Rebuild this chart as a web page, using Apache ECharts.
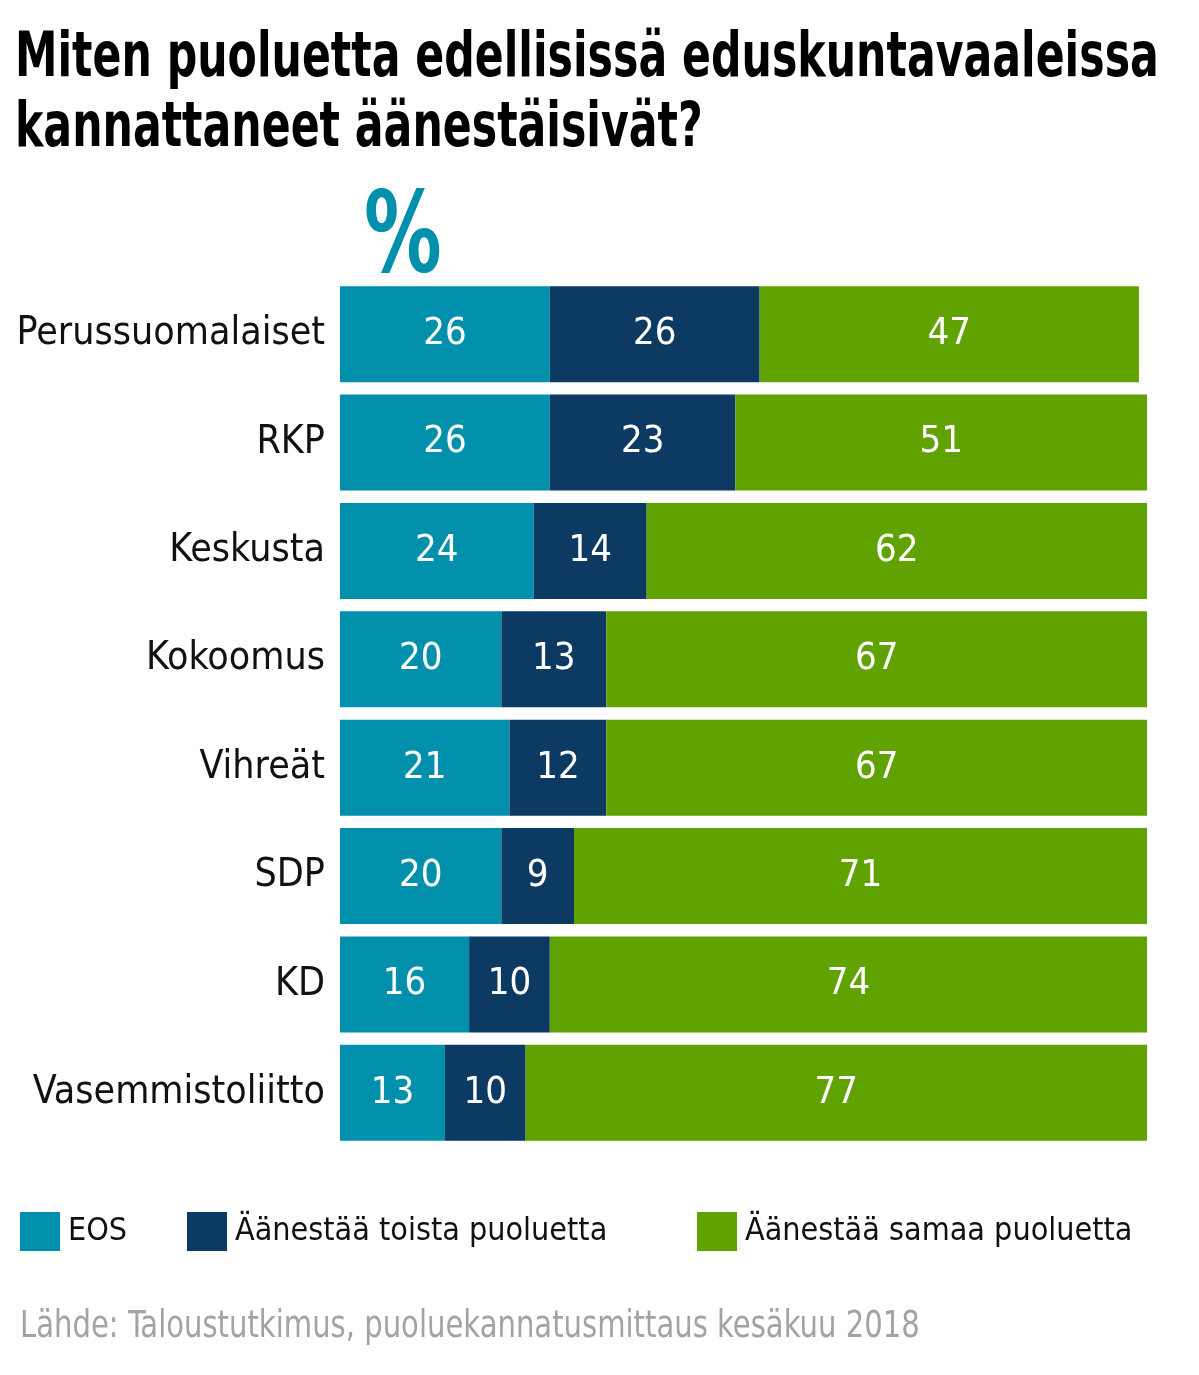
<!DOCTYPE html>
<html>
<head>
<meta charset="utf-8">
<script src="https://cdn.jsdelivr.net/npm/echarts@6/dist/echarts.min.js"></script>
<style>
  html, body { margin: 0; padding: 0; background: #fff; }
  #chart { width: 1199px; height: 1375px; }
</style>
</head>
<body>
<div id="chart"></div>
<script>
// puolueet ylhäältä alas
var parties = ['Perussuomalaiset', 'RKP', 'Keskusta', 'Kokoomus', 'Vihreät', 'SDP', 'KD', 'Vasemmistoliitto'];
var seriesNames = ['EOS', 'Äänestää toista puoluetta', 'Äänestää samaa puoluetta'];
var eos = [26, 26, 24, 20, 21, 20, 16, 13];
var toista = [26, 23, 14, 13, 12, 9, 10, 10];
var samaa = [47, 51, 62, 67, 67, 71, 74, 77];

var colors = ['#0090ab', '#0d3a63', '#60a300'];
var font = '"DejaVu Sans Condensed", "Liberation Sans Narrow", sans-serif';

var chart = echarts.init(document.getElementById('chart'));

function barSeries(name, data, color) {
    return {
        name: name,
        type: 'bar',
        stack: 'total',
        data: data,
        barWidth: 96,
        itemStyle: {color: color},
        label: {
            show: true,
            position: 'inside',
            color: '#fff',
            fontFamily: font,
            fontSize: 38
        }
    };
}

function legendAt(name, left) {
    return {
        data: [name],
        left: left,
        top: 1212,
        padding: 0,
        itemWidth: 40,
        itemHeight: 39,
        icon: 'rect',
        selectedMode: false,
        textStyle: {fontFamily: font, fontSize: 32, color: '#111', padding: [10, 0, 0, 3]}
    };
}

chart.setOption({
    animation: false,
    legend: [
        legendAt(seriesNames[0], 20),
        legendAt(seriesNames[1], 187),
        legendAt(seriesNames[2], 697)
    ],
    grid: {left: 340, right: 52, top: 280, height: 867, outerBoundsMode: 'none'},
    xAxis: {
        type: 'value',
        min: 0,
        max: 100,
        show: false
    },
    yAxis: {
        type: 'category',
        data: parties,
        inverse: true,
        axisLine: {show: false},
        axisTick: {show: false},
        axisLabel: {
            fontFamily: font,
            fontSize: 39,
            color: '#111',
            margin: 15
        }
    },
    series: [
        barSeries(seriesNames[0], eos, colors[0]),
        barSeries(seriesNames[1], toista, colors[1]),
        barSeries(seriesNames[2], samaa, colors[2])
    ],
    graphic: [
        // otsikko, kavennettu
        {
            type: 'text',
            x: 15,
            y: 25,
            scaleX: 0.765,
            style: {
                text: 'Miten puoluetta edellisissä eduskuntavaaleissa\nkannattaneet äänestäisivät?',
                fontFamily: font,
                fontWeight: 'bold',
                fontSize: 62,
                lineHeight: 70,
                verticalAlign: 'top',
                fill: '#000'
            }
        },
        {
            type: 'text',
            x: 364,
            y: 186,
            scaleX: 0.77,
            style: {
                text: '%',
                fontFamily: font,
                fontWeight: 'bold',
                fontSize: 112,
                verticalAlign: 'top',
                fill: '#0090ab'
            }
        },
        {
            type: 'text',
            x: 20,
            y: 1309,
            scaleX: 0.874,
            style: {
                text: 'Lähde: Taloustutkimus, puoluekannatusmittaus kesäkuu 2018',
                fontFamily: font,
                fontSize: 37,
                verticalAlign: 'top',
                fill: '#a3a3a3'
            }
        }
    ]
});
</script>
</body>
</html>
